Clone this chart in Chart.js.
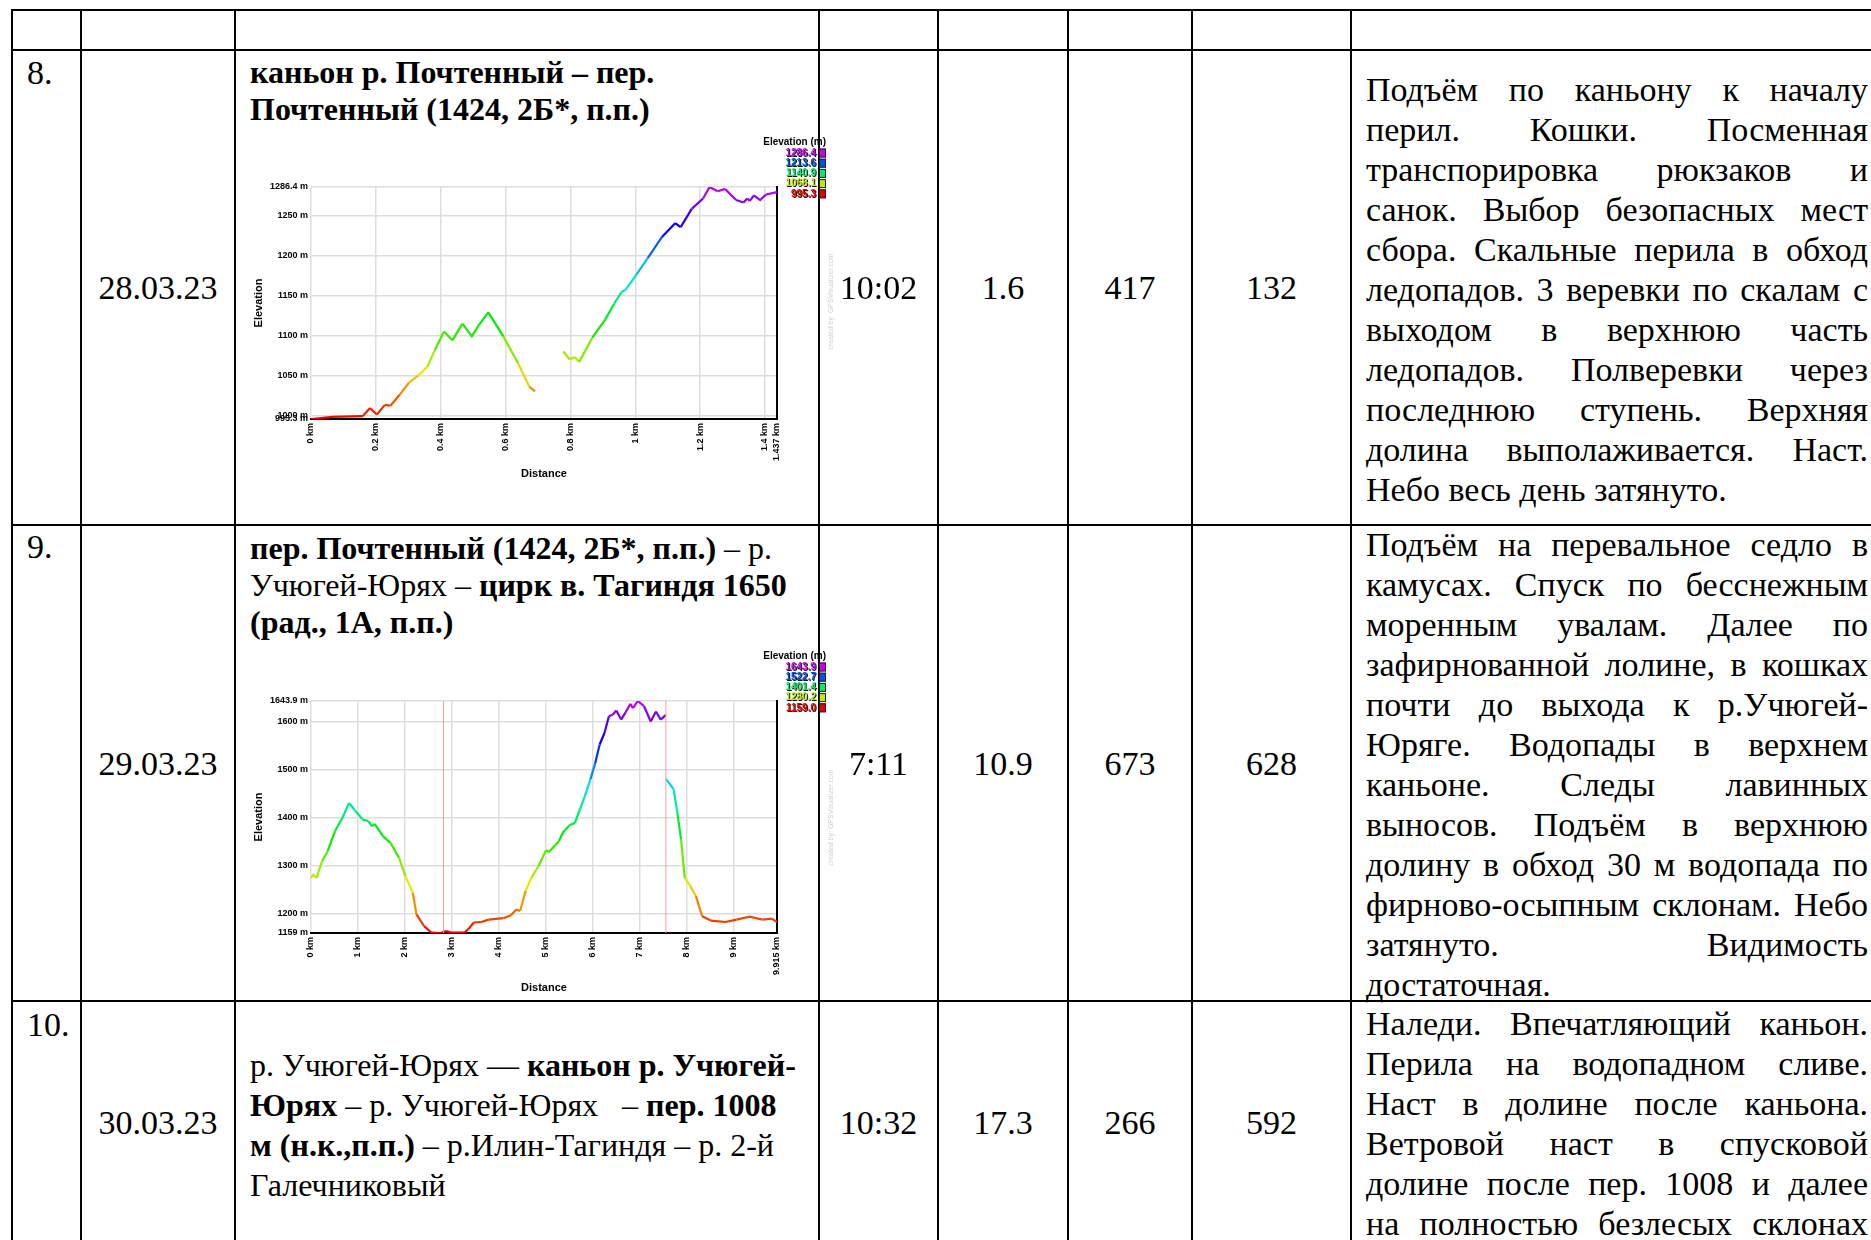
<!DOCTYPE html>
<html>
<head>
<meta charset="utf-8">
<script src="https://cdn.jsdelivr.net/npm/chart.js@4.4.1/dist/chart.umd.min.js"></script>
<style>
  body { margin: 0; background: #fff; }
  #page { position: relative; width: 1871px; height: 1240px; overflow: hidden; background: #fff;
          font-family: "Liberation Serif", "Times New Roman", serif; color: #000; }
  .vl { position: absolute; width: 2px; background: #000; }
  .hl { position: absolute; height: 2px; background: #000; }
  .txt { position: absolute; font-size: 34px; line-height: 40px; white-space: nowrap; }
  .ttl { position: absolute; font-size: 32px; line-height: 37px; white-space: nowrap; }
  .ttl b { font-weight: bold; }
  .num { position: absolute; font-size: 34px; line-height: 40px; text-align: center; }
  .desc { position: absolute; left: 1366px; width: 502px; font-size: 34px; line-height: 40px; }
  .desc div { text-align: justify; text-align-last: justify; white-space: nowrap; height: 40px; }
  .desc div.last { text-align-last: left; }
  .chartbox { position: absolute; }
  .wm { position: absolute; font: 7px "Liberation Sans", Arial, sans-serif; color: #cfcfcf;
        transform: rotate(-90deg); transform-origin: center; white-space: nowrap; }
</style>
</head>
<body>
<div id="page">
  <div id="grid"></div>

  <!-- row 8 -->
  <div class="txt" style="left:27px; top:53px;">8.</div>
  <div class="num" style="left:81px; width:154px; top:268px;">28.03.23</div>
  <div class="ttl" style="left:250px; top:54px;"><b>каньон р. Почтенный – пер.</b><br><b>Почтенный (1424, 2Б*, п.п.)</b></div>
  <div class="chartbox" style="left:245px; top:131px;"><canvas id="chart1" width="582" height="352"></canvas></div>
  <div class="wm" style="left:782px; top:298px;">created by: GPSVisualizer.com</div>
  <div class="num" style="left:819px; width:119px; top:268px;">10:02</div>
  <div class="num" style="left:938px; width:130px; top:268px;">1.6</div>
  <div class="num" style="left:1068px; width:124px; top:268px;">417</div>
  <div class="num" style="left:1192px; width:159px; top:268px;">132</div>
  <div class="desc" style="top:70px;">
    <div>Подъём по каньону к началу</div>
    <div>перил. Кошки. Посменная</div>
    <div>транспорировка рюкзаков и</div>
    <div>санок. Выбор безопасных мест</div>
    <div>сбора. Скальные перила в обход</div>
    <div>ледопадов. 3 веревки по скалам с</div>
    <div>выходом в верхнюю часть</div>
    <div>ледопадов. Полверевки через</div>
    <div>последнюю ступень. Верхняя</div>
    <div>долина выполаживается. Наст.</div>
    <div class="last">Небо весь день затянуто.</div>
  </div>

  <!-- row 9 -->
  <div class="txt" style="left:27px; top:527px;">9.</div>
  <div class="num" style="left:81px; width:154px; top:744px;">29.03.23</div>
  <div class="ttl" style="left:250px; top:530px;"><b>пер. Почтенный (1424, 2Б*, п.п.)</b> – р.<br>Учюгей-Юрях – <b>цирк в. Тагиндя 1650</b><br><b>(рад., 1А, п.п.)</b></div>
  <div class="chartbox" style="left:245px; top:645px;"><canvas id="chart2" width="582" height="352"></canvas></div>
  <div class="wm" style="left:782px; top:814px;">created by: GPSVisualizer.com</div>
  <div class="num" style="left:819px; width:119px; top:744px;">7:11</div>
  <div class="num" style="left:938px; width:130px; top:744px;">10.9</div>
  <div class="num" style="left:1068px; width:124px; top:744px;">673</div>
  <div class="num" style="left:1192px; width:159px; top:744px;">628</div>
  <div class="desc" style="top:525px;">
    <div>Подъём на перевальное седло в</div>
    <div>камусах. Спуск по бесснежным</div>
    <div>моренным увалам. Далее по</div>
    <div>зафирнованной лолине, в кошках</div>
    <div>почти до выхода к р.Учюгей-</div>
    <div>Юряге. Водопады в верхнем</div>
    <div>каньоне. Следы лавинных</div>
    <div>выносов. Подъём в верхнюю</div>
    <div>долину в обход 30 м водопада по</div>
    <div>фирново-осыпным склонам. Небо</div>
    <div>затянуто. Видимость</div>
    <div class="last">достаточная.</div>
  </div>

  <!-- row 10 -->
  <div class="txt" style="left:27px; top:1005px;">10.</div>
  <div class="num" style="left:81px; width:154px; top:1103px;">30.03.23</div>
  <div class="ttl" style="left:250px; top:1045px; line-height:40px;">р. Учюгей-Юрях — <b>каньон р. Учюгей-</b><br><b>Юрях</b> – р. Учюгей-Юрях &nbsp; – <b>пер. 1008</b><br><b>м (н.к.,п.п.)</b> – р.Илин-Тагиндя – р. 2-й<br>Галечниковый</div>
  <div class="num" style="left:819px; width:119px; top:1103px;">10:32</div>
  <div class="num" style="left:938px; width:130px; top:1103px;">17.3</div>
  <div class="num" style="left:1068px; width:124px; top:1103px;">266</div>
  <div class="num" style="left:1192px; width:159px; top:1103px;">592</div>
  <div class="desc" style="top:1004px;">
    <div>Наледи. Впечатляющий каньон.</div>
    <div>Перила на водопадном сливе.</div>
    <div>Наст в долине после каньона.</div>
    <div>Ветровой наст в спусковой</div>
    <div>долине после пер. 1008 и далее</div>
    <div>на полностью безлесых склонах</div>
  </div>
</div>

<script>
// table grid
const colX = [12, 81, 235, 819, 938, 1068, 1192, 1351, 1877];
const rowY = [10, 50, 525, 1001];
const grid = document.getElementById('grid');
colX.forEach(x => {
    grid.insertAdjacentHTML('beforeend', `<div class="vl" style="left:${x - 1}px; top:${rowY[0] - 1}px; height:1300px;"></div>`);
});
rowY.forEach(y => {
    grid.insertAdjacentHTML('beforeend', `<div class="hl" style="left:${colX[0] - 1}px; top:${y - 1}px; width:${colX[colX.length - 1] - colX[0] + 2}px;"></div>`);
});

// day 8 profile: canyon - pass Pochtenny
const dist1 = [0, 0.068, 0.16, 0.182, 0.203, 0.228, 0.245, 0.274, 0.302, 0.331, 0.359, 0.382, 0.41, 0.436, 0.467, 0.496, 0.519, 0.547, 0.593, 0.639, 0.673, 0.691,
    0.735,
    0.778, 0.798, 0.813, 0.827, 0.867, 0.907, 0.935, 0.958, 0.969, 1.003, 1.038, 1.083, 1.123, 1.14, 1.174, 1.209, 1.229, 1.254, 1.277, 1.311, 1.334, 1.345, 1.353, 1.366, 1.385, 1.403, 1.437];
const elev1 = [995.3, 998, 999, 1009, 1001, 1013, 1012, 1026, 1041, 1050, 1061, 1082, 1105, 1094, 1115, 1099, 1114, 1129, 1099, 1065, 1036, 1030,
    null,
    1080, 1070, 1073, 1067, 1097, 1120, 1140, 1155, 1157, 1176, 1197, 1224, 1241, 1236, 1259, 1272, 1286.4, 1281, 1284, 1270, 1267, 1272, 1269, 1276, 1270, 1277, 1280];
const xTicks1 = [0, 0.2, 0.4, 0.6, 0.8, 1, 1.2, 1.4, 1.437];
const yTicks1 = [995.3, 1000, 1050, 1100, 1150, 1200, 1250, 1286.4];
const legend1 = ['1286.4', '1213.6', '1140.9', '1068.1', '995.3'];
const markers1 = [];

// day 9 profile: pass Pochtenny - Uchyugey-Yuryakh - cirque Tagindya
const dist2 = [0, 0.047, 0.118, 0.236, 0.354, 0.512, 0.669, 0.811, 0.945, 1.102, 1.22, 1.299, 1.354, 1.535, 1.693, 1.874, 2.008, 2.165, 2.244, 2.402, 2.559, 2.756, 2.874, 2.992, 3.268, 3.346, 3.465, 3.622, 3.78, 4.094, 4.252, 4.37, 4.449, 4.567, 4.685, 4.843, 5.0, 5.055, 5.276, 5.354, 5.496, 5.614, 5.709, 5.827, 5.945, 6.047, 6.142, 6.244, 6.339, 6.417, 6.496, 6.598, 6.693, 6.795, 6.85, 6.953, 7.087, 7.228, 7.339, 7.441, 7.551,
    7.551,
    7.552, 7.717, 7.795, 7.874, 7.953, 8.071, 8.189, 8.323, 8.504, 8.819, 9.055, 9.331, 9.606, 9.803, 9.915];
const elev2 = [1274, 1281, 1274, 1309, 1330, 1372, 1400, 1431, 1414, 1396, 1393, 1382, 1387, 1361, 1347, 1316, 1278, 1243, 1198, 1174, 1160, 1159, 1163, 1160, 1160, 1167, 1181, 1182, 1187, 1190, 1196, 1208, 1205, 1247, 1274, 1299, 1332, 1328, 1351, 1368, 1384, 1389, 1414, 1445, 1480, 1514, 1553, 1577, 1612, 1615, 1624, 1605, 1620, 1638, 1629, 1643.9, 1633, 1601, 1622, 1605, 1615,
    null,
    1481, 1459, 1410, 1354, 1274, 1257, 1236, 1194, 1185, 1182, 1187, 1193, 1187, 1189, 1182];
const xTicks2 = [0, 1, 2, 3, 4, 5, 6, 7, 8, 9, 9.915];
const yTicks2 = [1159, 1200, 1300, 1400, 1500, 1600, 1643.9];
const legend2 = ['1643.9', '1522.7', '1401.4', '1280.2', '1159.0'];
const markers2 = [2.819, 7.551];

const SANS = '"Liberation Sans", Arial, sans-serif';

function elevColor(v, min, max) {
    const f = Math.max(0, Math.min(1, (v - min) / (max - min)));
    return 'hsl(' + Math.round(f * 292) + ', 100%, 46%)';
}

// legend in the top right corner, like the GPSVisualizer picture
const elevLegend = {
    id: 'elevLegend',
    afterDraw(chart) {
        const o = chart.options.plugins.elevLegend;
        const ctx = chart.ctx;
        const right = chart.width - 1;
        ctx.save();
        ctx.font = 'bold 10px ' + SANS;
        ctx.textAlign = 'right';
        ctx.textBaseline = 'middle';
        ctx.fillStyle = '#000';
        ctx.fillText('Elevation (m)', right, 11);
        o.values.forEach((s, i) => {
            const y = 22 + i * 10.2;
            const c = elevColor(parseFloat(s), o.min, o.max);
            ctx.fillStyle = c;
            ctx.fillRect(right - 7, y - 4.5, 7, 9);
            ctx.strokeStyle = '#222';
            ctx.lineWidth = 1;
            ctx.strokeRect(right - 7 + 0.5, y - 4, 6, 8);
            ctx.fillStyle = '#111';
            ctx.fillText(s, right - 9, y + 1);
            ctx.fillStyle = c;
            ctx.fillText(s, right - 10, y);
        });
        ctx.restore();
    }
};

function drawProfile(canvasId, dist, elev, xTicks, yTicks, legend, markers) {
    const yMin = yTicks[0], yMax = yTicks[yTicks.length - 1];
    const xMax = xTicks[xTicks.length - 1];
    const datasets = [{
        data: dist.map((d, i) => ({ x: d, y: elev[i] })),
        borderWidth: 2.2,
        pointRadius: 0,
        fill: false,
        tension: 0,
        spanGaps: false,
        borderColor: '#f00',
        segment: { borderColor: c => elevColor((c.p0.parsed.y + c.p1.parsed.y) / 2, yMin, yMax) }
    }];
    markers.forEach(m => datasets.unshift({
        data: [{ x: m, y: yMin }, { x: m, y: yMax }],
        borderColor: '#ff9a9a',
        borderWidth: 1,
        pointRadius: 0
    }));
    new Chart(document.getElementById(canvasId).getContext('2d'), {
        type: 'line',
        data: { datasets },
        plugins: [elevLegend],
        options: {
            responsive: false,
            animation: false,
            devicePixelRatio: 1,
            layout: { padding: { left: 4, right: 50, top: 56, bottom: 2 } },
            plugins: {
                legend: { display: false },
                tooltip: { enabled: false },
                elevLegend: { values: legend, min: yMin, max: yMax }
            },
            scales: {
                x: {
                    type: 'linear', min: 0, max: xMax,
                    afterBuildTicks: s => { s.ticks = xTicks.map(v => ({ value: v })); },
                    afterFit: s => { s.height = 62; },
                    ticks: {
                        autoSkip: false, minRotation: 90, maxRotation: 90, padding: 4,
                        color: '#000', font: { family: SANS, size: 9, weight: 'bold' },
                        callback: v => v + ' km'
                    },
                    grid: { color: '#dedede', lineWidth: 1.5, drawTicks: false },
                    border: { display: true, color: '#000', width: 2 },
                    title: { display: true, text: 'Distance', color: '#000', padding: 0, font: { family: SANS, size: 11, weight: 'bold' } }
                },
                y: {
                    min: yMin, max: yMax,
                    afterBuildTicks: s => { s.ticks = yTicks.map(v => ({ value: v })); },
                    afterFit: s => { s.width = 62; },
                    ticks: {
                        padding: 3, color: '#000', font: { family: SANS, size: 9, weight: 'bold' },
                        callback: v => v + ' m'
                    },
                    grid: { color: '#dedede', lineWidth: 1.5, drawTicks: false },
                    border: { display: false },
                    title: { display: true, text: 'Elevation', color: '#000', padding: { top: 3, bottom: 0 }, font: { family: SANS, size: 11, weight: 'bold' } }
                },
                y2: {
                    position: 'right',
                    afterFit: s => { s.width = 0; },
                    ticks: { display: false },
                    grid: { display: false, drawTicks: false },
                    border: { display: true, color: '#000', width: 2 }
                }
            }
        }
    });
}

drawProfile('chart1', dist1, elev1, xTicks1, yTicks1, legend1, markers1);
drawProfile('chart2', dist2, elev2, xTicks2, yTicks2, legend2, markers2);
</script>
</body>
</html>
